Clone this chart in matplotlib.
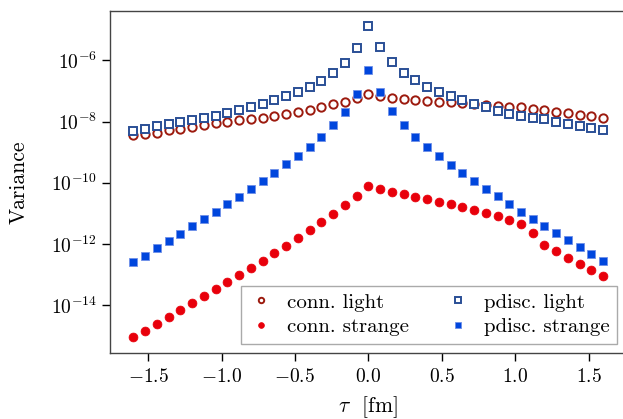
import matplotlib

matplotlib.use("Agg")
import matplotlib.pyplot as plt
from matplotlib.ticker import NullLocator
import numpy as np


# LaTeX-like look without a TeX install
plt.rcParams.update({
    "font.family": "serif",
    "font.serif": ["cmr10"],
    "mathtext.fontset": "cm",
    "axes.formatter.use_mathtext": True,
    "axes.unicode_minus": True,
})

tau = [-1.60, -1.52, -1.44, -1.36, -1.28, -1.20, -1.12, -1.04, -0.96, -0.88,
       -0.80, -0.72, -0.64, -0.56, -0.48, -0.40, -0.32, -0.24, -0.16, -0.08,
       0.00,
       0.08, 0.16, 0.24, 0.32, 0.40, 0.48, 0.56, 0.64, 0.72, 0.80,
       0.88, 0.96, 1.04, 1.12, 1.20, 1.28, 1.36, 1.44, 1.52, 1.60]

# log10 of the variances
conn_light_log = [-8.44, -8.41, -8.36, -8.29, -8.24, -8.18, -8.12, -8.06, -8.02, -7.96,
                  -7.91, -7.87, -7.81, -7.75, -7.69, -7.62, -7.53, -7.44, -7.35, -7.24,
                  -7.09,
                  -7.18, -7.24, -7.27, -7.30, -7.33, -7.35, -7.37, -7.40, -7.43, -7.47,
                  -7.50, -7.52, -7.54, -7.59, -7.63, -7.68, -7.73, -7.78, -7.83, -7.89]
conn_strange_log = [-15.05, -14.83, -14.61, -14.38, -14.17, -13.93, -13.69, -13.46, -13.23, -13.01,
                    -12.78, -12.55, -12.30, -12.05, -11.80, -11.54, -11.28, -11.01, -10.72, -10.42,
                    -10.10,
                    -10.20, -10.30, -10.38, -10.45, -10.54, -10.62, -10.70, -10.79, -10.90, -10.99,
                    -11.09, -11.20, -11.34, -11.63, -12.03, -12.23, -12.44, -12.66, -12.85, -13.06]
pdisc_light_log = [-8.30, -8.24, -8.16, -8.09, -8.02, -7.95, -7.87, -7.81, -7.73, -7.63,
                   -7.54, -7.44, -7.31, -7.18, -7.04, -6.87, -6.67, -6.41, -6.09, -5.59,
                   -4.89,
                   -5.57, -6.07, -6.41, -6.66, -6.87, -7.04, -7.18, -7.31, -7.44, -7.54,
                   -7.65, -7.74, -7.81, -7.88, -7.93, -8.02, -8.09, -8.15, -8.22, -8.28]
pdisc_strange_log = [-12.60, -12.38, -12.13, -11.90, -11.66, -11.42, -11.19, -10.95, -10.70, -10.45,
                     -10.20, -9.94, -9.67, -9.40, -9.13, -8.82, -8.50, -8.13, -7.70, -7.09,
                     -6.33,
                     -7.05, -7.66, -8.13, -8.50, -8.83, -9.13, -9.41, -9.67, -9.93, -10.19,
                     -10.44, -10.70, -10.95, -11.18, -11.41, -11.64, -11.87, -12.09, -12.32, -12.57]

y_ticks = [1e-14, 1e-12, 1e-10, 1e-8, 1e-6]
x_ticks = [-1.5, -1.0, -0.5, 0.0, 0.5, 1.0, 1.5]

fig = plt.figure(figsize=(6.23, 4.19), dpi=100)
# right spine sits just outside the canvas, like the cropped original
ax = fig.add_axes([110 / 623, 66 / 419, 516.7 / 623, 342.3 / 419])

ax.plot(tau, 10 ** np.array(conn_light_log), "o", ms=6.0, mfc="white",
        mec="#9C1A0E", mew=1.4, label="conn. light")
ax.plot(tau, 10 ** np.array(conn_strange_log), "o", ms=6.4, mfc="#E8000B",
        mec="#E8000B", mew=0.5, label="conn. strange")
ax.plot(tau, 10 ** np.array(pdisc_light_log), "s", ms=5.6, mfc="white",
        mec="#2A4F96", mew=1.4, label="pdisc. light")
ax.plot(tau, 10 ** np.array(pdisc_strange_log), "s", ms=6.3, mfc="#0046DD",
        mec="#6F90E8", mew=0.6, label="pdisc. strange")

ax.set_yscale("log")
ax.set_yticks(y_ticks)
ax.yaxis.set_minor_locator(NullLocator())
ax.set_xticks(x_ticks)

ax.set_xlabel(r"$\tau$  [fm]", fontsize=15.5, labelpad=5.5)
ax.set_ylabel("Variance", fontsize=15.5, labelpad=16)
ax.tick_params(axis="both", labelsize=14, length=6, width=1.0, direction="out")
ax.tick_params(axis="x", pad=5)

for side, spine in ax.spines.items():
    spine.set_color("#444444")
    spine.set_linewidth(1.0)

leg = ax.legend(loc="lower right", ncol=2, fontsize=15, numpoints=1,
                markerscale=0.65, fancybox=False, framealpha=1.0,
                edgecolor="#AAAAAA", columnspacing=1.75, handletextpad=0.65,
                handlelength=1.2, borderpad=0.35, labelspacing=0.3,
                borderaxespad=0.45)
leg.get_frame().set_linewidth(1.0)

fig.savefig("out.png", dpi=100)
